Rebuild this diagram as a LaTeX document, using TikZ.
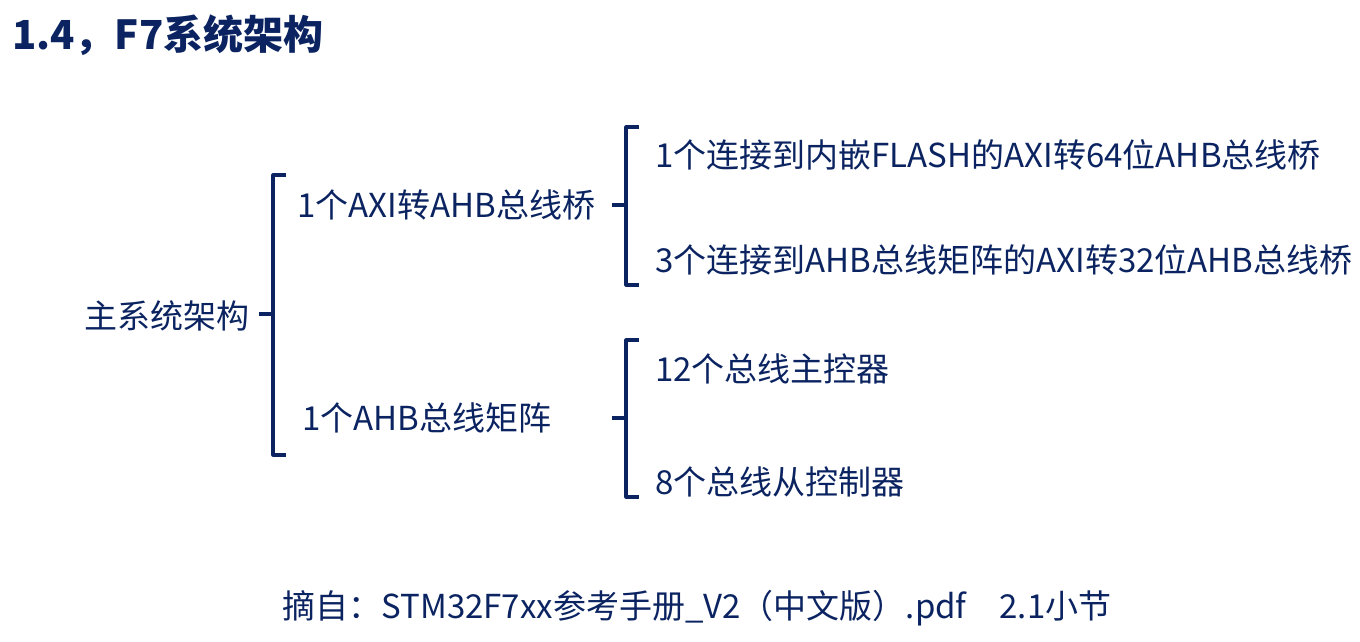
\documentclass[tikz,border=0pt]{standalone}
\usepackage{fontspec}
\setmainfont{Noto Sans CJK SC}
\usetikzlibrary{positioning}
\definecolor{navy}{HTML}{0B2461}
\tikzset{
  txt/.style={inner sep=0pt, text=navy, font=\fontsize{33}{38}\selectfont},
  brace/.style={draw=navy, line width=3.2pt, line join=round}
}
\newcommand{\bracket}[4]{% x, top, bottom, mid
  \draw[brace] (#1+13,#2) -- (#1,#2) -- (#1,#3) -- (#1+13,#3);
  \draw[brace] (#1-14,#4) -- (#1,#4);
}
\begin{document}
\begin{tikzpicture}[x=1pt,y=-1pt]
  \useasboundingbox (0,0) rectangle (1360,641);
  \node[txt, anchor=west, font=\fontsize{40}{44}\selectfont\bfseries] (title) at (12,35) {1.4，F7系统架构};
  \node[txt, anchor=east] (main) at (250,316) {主系统架构};
  \node[txt, anchor=west] (axi) at (297,205) {1个AXI转AHB总线桥};
  \node[txt, anchor=west] (ahb) at (302,418) {1个AHB总线矩阵};
  \node[txt, anchor=west] (flash) at (655,155) {1个连接到内嵌FLASH的AXI转64位AHB总线桥};
  \node[txt, anchor=west] (matrix) at (655,260) {3个连接到AHB总线矩阵的AXI转32位AHB总线桥};
  \node[txt, anchor=west] (master) at (655,369) {12个总线主控器};
  \node[txt, anchor=west] (slave) at (655,482) {8个总线从控制器};
  \node[txt] (src) at (697,608) {摘自：STM32F7xx参考手册\_V2（中文版）.pdf\quad 2.1小节};
  % brackets
  \bracket{273}{175}{455}{314}
  \bracket{626}{127}{285}{205}
  \bracket{626}{340}{497}{418}
\end{tikzpicture}
\end{document}
